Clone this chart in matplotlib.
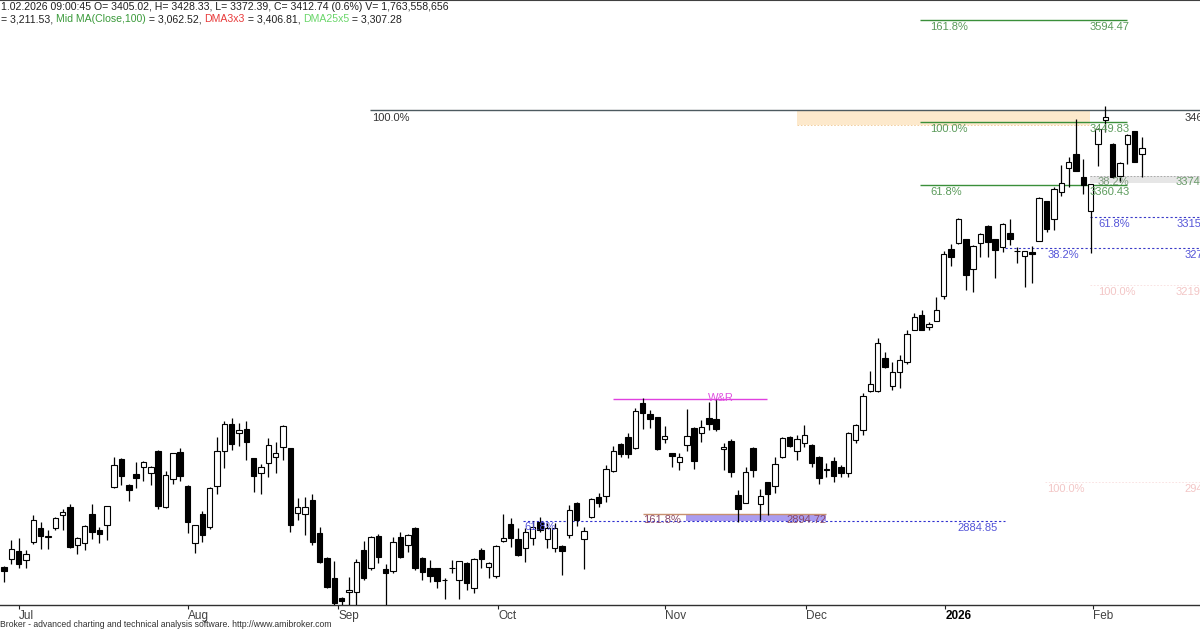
import matplotlib
matplotlib.use("Agg")
import matplotlib.pyplot as plt
import numpy as np

plt.rcParams['font.family'] = ['Liberation Sans', 'DejaVu Sans']

# daily candles (late Jun 2025 .. 11 Feb 2026)
opens = [2820, 2831, 2843, 2830, 2855, 2875, 2862, 2875, 2894, 2905,
         2851, 2854, 2895, 2872, 2879, 2933, 2973, 2936, 2952, 2962,
         2953, 2984, 2905, 2945, 2983, 2935, 2854, 2895, 2877, 2935,
         2984, 3022, 3010, 3015, 2974, 2953, 2967, 2976, 2990, 2988,
         2896, 2895, 2915, 2868, 2833, 2804, 2776, 2785, 2785, 2844,
         2818, 2864, 2817, 2814, 2862, 2851, 2875, 2833, 2818, 2818,
         2802, 2818, 2802, 2826, 2790, 2844, 2820, 2807, 2857, 2881,
         2860, 2847, 2861, 2884, 2860, 2847, 2850, 2865, 2911, 2860,
         2891, 2919, 2920, 2956, 2994, 3004, 2988, 3052, 3037, 3032,
         3001, 2981, 2969, 2993, 3017, 3010, 3031, 3029, 2987, 2998,
         2922, 2911, 2988, 2909, 2940, 2935, 2976, 3004, 2984, 2995,
         2993, 2976, 2959, 2970, 2962, 2953, 3000, 3014, 3069, 3069,
         3116, 3076, 3096, 3110, 3156, 3177, 3160, 3168, 3204, 3270,
         3279, 3284, 3242, 3279, 3303, 3284, 3273, 3293, 3268, 3260,
         3266, 3282, 3338, 3313, 3351, 3385, 3405, 3372, 3324, 3419,
         3453, 3419, 3374, 3419, 3437, 3405.02]
highs = [2822, 2858, 2861, 2844, 2894, 2884, 2872, 2891, 2902, 2909,
         2862, 2879, 2909, 2877, 2907, 2976, 2974, 2937, 2969, 2970,
         2963, 2986, 2956, 2982, 2988, 2936, 2880, 2899, 2933, 3004,
         3027, 3031, 3024, 3027, 2975, 2966, 3003, 2997, 3021, 2989,
         2918, 2919, 2923, 2877, 2834, 2828, 2777, 2806, 2831, 2857,
         2864, 2867, 2824, 2862, 2869, 2866, 2876, 2834, 2830, 2819,
         2804, 2830, 2829, 2827, 2832, 2847, 2827, 2851, 2895, 2889,
         2875, 2875, 2885, 2891, 2882, 2882, 2851, 2908, 2912, 2877,
         2918, 2925, 2964, 2991, 2995, 3010, 3045, 3059, 3042, 3033,
         3020, 2982, 2982, 3044, 3018, 3028, 3054, 3058, 2996, 3001,
         2929, 2962, 2990, 2930, 2941, 2976, 3004, 3005, 3007, 3021,
         2994, 2977, 2967, 2976, 2964, 3011, 3022, 3066, 3098, 3144,
         3124, 3110, 3120, 3156, 3180, 3184, 3167, 3202, 3268, 3277,
         3314, 3285, 3276, 3293, 3304, 3285, 3307, 3313, 3273, 3268,
         3274, 3344, 3339, 3358, 3389, 3401, 3454, 3398, 3363, 3441,
         3473, 3420, 3393, 3433, 3438, 3428.33]
lows = [2799, 2824, 2818, 2818, 2853, 2845, 2845, 2873, 2872, 2847,
        2838, 2844, 2860, 2854, 2858, 2932, 2936, 2913, 2932, 2942,
        2936, 2902, 2904, 2938, 2942, 2868, 2840, 2855, 2874, 2923,
        2960, 2986, 2991, 2972, 2926, 2923, 2947, 2953, 2971, 2869,
        2887, 2865, 2851, 2826, 2790, 2766, 2766, 2766, 2766, 2801,
        2816, 2826, 2766, 2812, 2833, 2841, 2816, 2802, 2799, 2790,
        2775, 2811, 2775, 2787, 2783, 2818, 2804, 2805, 2855, 2848,
        2835, 2827, 2851, 2869, 2847, 2841, 2809, 2861, 2878, 2817,
        2890, 2905, 2912, 2955, 2976, 2974, 2987, 3015, 3017, 2985,
        2996, 2962, 2957, 2984, 2959, 2997, 3014, 3013, 2957, 2947,
        2884, 2910, 2947, 2886, 2894, 2925, 2975, 2990, 2971, 2990,
        2962, 2937, 2947, 2940, 2947, 2947, 2996, 3007, 3068, 3068,
        3102, 3071, 3073, 3107, 3155, 3155, 3156, 3168, 3200, 3246,
        3278, 3212, 3209, 3259, 3259, 3229, 3266, 3276, 3250, 3216,
        3222, 3281, 3294, 3297, 3345, 3358, 3381, 3348, 3265, 3388,
        3436, 3371, 3365, 3391, 3393, 3372.39]
closes = [2814, 2845, 2824, 2838, 2887, 2864, 2863, 2889, 2898, 2848,
          2861, 2878, 2869, 2867, 2906, 2964, 2949, 2929, 2946, 2969,
          2962, 2906, 2950, 2981, 2949, 2884, 2879, 2865, 2932, 2984,
          3022, 2994, 3014, 2997, 2949, 2962, 2993, 2981, 3020, 2879,
          2905, 2905, 2855, 2827, 2792, 2769, 2772, 2788, 2827, 2804,
          2862, 2834, 2811, 2855, 2834, 2865, 2818, 2813, 2807, 2800,
          2801, 2819, 2828, 2797, 2831, 2831, 2826, 2850, 2861, 2861,
          2837, 2869, 2877, 2872, 2875, 2875, 2843, 2901, 2887, 2871,
          2916, 2911, 2959, 2984, 2980, 2980, 3041, 3038, 3030, 2987,
          3005, 2977, 2976, 3005, 2970, 3018, 3022, 3015, 2990, 2954,
          2902, 2954, 2957, 2920, 2923, 2966, 3003, 2991, 3001, 3007,
          2967, 2946, 2958, 2949, 2953, 3010, 3021, 3062, 3079, 3137,
          3103, 3096, 3113, 3150, 3174, 3156, 3164, 3184, 3263, 3259,
          3313, 3233, 3275, 3292, 3280, 3269, 3306, 3284, 3267, 3267,
          3263, 3343, 3299, 3355, 3364, 3394, 3381, 3361, 3362, 3440,
          3457, 3372, 3392, 3432, 3394, 3412.74]

# month ticks (bar positions) and labels
month_pos = [2.0, 25.1, 45.5, 67.3, 90.0, 109.2, 128.2, 148.3]
month_labels = ['Jul', 'Aug', 'Sep', 'Oct', 'Nov', 'Dec', '2026', 'Feb']

# fibonacci / study levels
top_level = 3466.84
fib_green = [3594.47, 3449.83, 3360.43]
fib_green_pct = ['161.8%', '100.0%', '61.8%']
fib_blue = [3315.20, 3271.60]
fib_blue_pct = ['61.8%', '38.2%']
gray_level = 3374.10
pink_levels = [3219.40, 2940.20]
wr_level = 3058.0
low_ext = 2894.72
low_blue = 2884.85

fig = plt.figure(figsize=(12, 6.3), dpi=100)
ax = fig.add_axes([0, 25 / 630, 1, 605 / 630])
n = len(opens)
idx = np.arange(n)
o = np.array(opens, float)
h = np.array(highs, float)
l = np.array(lows, float)
c = np.array(closes, float)

ax.set_xlim(-0.545, 162.9)
ax.set_ylim(2766.1, 3623.0)

# candles
ax.vlines(idx, l, h, color='black', lw=0.9, zorder=3)
bot = np.minimum(o, c)
hgt = np.maximum(np.abs(c - o), 1.2)
face = ['white' if cc >= oo else 'black' for oo, cc in zip(o, c)]
ax.bar(idx, hgt, bottom=bot, width=0.74, color=face, edgecolor='black',
       linewidth=0.8, zorder=4)

fs = 8
# top dark line
ax.hlines(top_level, 49.8, 170, color='#4d5a60', lw=1.0, zorder=2)
ax.text(50.2, top_level - 4, '100.0%', color='#333333', fontsize=fs, va='top')
ax.text(160.8, top_level - 4, f'{top_level:.2f}', color='#333333', fontsize=fs, va='top')

# orange band under top line
ax.fill_between([108.0, 147.9], 3446.5, top_level - 0.5, color='#fde9cc', lw=0, zorder=1)
ax.hlines(3446.5, 108.0, 147.9, color='#f0c890', lw=0.6, linestyles=(0, (2, 2)), zorder=1)

# green fib lines
for lev, pct in zip(fib_green, fib_green_pct):
    ax.hlines(lev, 124.8, 153.0, color='#3a8f3a', lw=1.0, zorder=2)
    ax.text(126.2, lev - 2, pct, color='#5a9a5a', fontsize=fs, va='top', zorder=5)
    ax.text(147.9, lev - 2, f'{lev:.2f}', color='#5a9a5a', fontsize=fs, va='top', zorder=5)

# gray band
ax.fill_between([147.9, 170], gray_level - 10, gray_level, color='#e6e6e6', lw=0, zorder=1)
ax.hlines(gray_level, 147.9, 170, color='#a0a0a0', lw=0.6, linestyles=(0, (2, 2)), zorder=1)
ax.text(149.0, gray_level - 2, '38.2%', color='#7a9a7a', fontsize=fs, va='top', zorder=5)
ax.text(159.6, gray_level - 2, f'{gray_level:.2f}', color='#6a9a6a', fontsize=fs, va='top', zorder=5)

# blue dashed fib lines
blue_start = [147.9, 136.3]
blue_lab = [149.0, 142.1]
blue_val = [159.7, 160.8]
for lev, pct, s, lx, vx in zip(fib_blue, fib_blue_pct, blue_start, blue_lab, blue_val):
    ax.hlines(lev, s, 170, color='#3a3ac8', lw=0.8, linestyles=(0, (2, 2)), zorder=2)
    ax.text(lx, lev - 3, pct, color='#5555d8', fontsize=fs, va='top', zorder=5)
    ax.text(vx, lev - 3, f'{lev:.2f}', color='#5555d8', fontsize=fs, va='top', zorder=5)

# faint pink levels
pink_start = [147.9, 141.8]
pink_lab = [149.0, 142.1]
for lev, s, lx in zip(pink_levels, pink_start, pink_lab):
    ax.hlines(lev, s, 170, color='#f8dede', lw=0.6, linestyles=(0, (2, 2)), zorder=1)
    ax.text(lx, lev - 3, '100.0%', color='#f3c6c6', fontsize=fs, va='top', zorder=1)
    ax.text(160.8 if lev < 3000 else 159.6, lev - 3, f'{lev:.2f}', color='#f3c6c6',
            fontsize=fs, va='top', zorder=1)

# W&R line
ax.hlines(wr_level, 82.9, 103.9, color='#e040e0', lw=1.0, zorder=2)
ax.text(97.7, wr_level + 1, 'W&R', color='#e050e0', fontsize=fs, ha='center',
        va='center', zorder=5)

# lower extension + blue line
ax.fill_between([92.9, 112.0], low_ext - 10, low_ext, color='#aa9cf0', lw=0, zorder=1)
ax.hlines(low_ext, 87.0, 112.0, color='#c89070', lw=1.0, zorder=2)
ax.hlines(low_blue, 70.7, 136.3, color='#3030d0', lw=0.8, linestyles=(0, (2, 2)), zorder=2)
ax.text(87.0, low_ext - 1.5, '161.8%', color='#8a4a6a', fontsize=fs, va='top', zorder=5)
ax.text(106.6, low_ext - 1.5, f'{low_ext:.2f}', color='#8a4a6a', fontsize=fs, va='top', zorder=5)
ax.text(70.9, low_blue - 1, '61.8%', color='#5555d8', fontsize=fs, va='top', zorder=5)
ax.text(129.9, low_blue - 3, f'{low_blue:.2f}', color='#5555d8', fontsize=fs, va='top', zorder=5)

# axes frame
for s in ['left', 'right']:
    ax.spines[s].set_visible(False)
ax.spines['top'].set_color('#404040')
ax.spines['bottom'].set_color('#303030')
ax.spines['bottom'].set_linewidth(1.0)
ax.set_yticks([])
ax.set_xticks(month_pos)
ax.set_xticklabels(month_labels, ha='left')
ax.tick_params(axis='x', direction='out', length=3, width=0.8, pad=0.5,
               labelsize=8.5, colors='#202020', labelcolor='#404040')
for t in ax.get_xticklabels():
    if t.get_text() == '2026':
        t.set_fontweight('bold')
        t.set_color('black')

# header lines
fig.text(1 / 1200, 1 - 6.5 / 630,
         '1.02.2026 09:00:45 O= 3405.02, H= 3428.33, L= 3372.39, C= 3412.74 (0.6%) V= 1,763,558,656',
         fontsize=7.6, color='#202020', va='center')
pieces = [('= 3,211.53, ', '#202020'), ('Mid MA(Close,100)', '#3a9a3a'),
          (' = 3,062.52, ', '#202020'), ('DMA3x3', '#e83a3a'),
          (' = 3,406.81, ', '#202020'), ('DMA25x5', '#6ad66a'),
          (' = 3,307.28', '#202020')]
fig.canvas.draw()
r = fig.canvas.get_renderer()
xpos = 1.0
for txt, col in pieces:
    t = fig.text(xpos / 1200, 1 - 19.5 / 630, txt.replace(' ', '\u00a0'),
                 fontsize=7.6, color=col, va='center')
    xpos += t.get_window_extent(r).width

fig.text(0, 1 - 624.5 / 630,
         'Broker - advanced charting and technical analysis software. http://www.amibroker.com',
         fontsize=6.2, color='#303030', va='center')

fig.savefig('out.png', dpi=100)
